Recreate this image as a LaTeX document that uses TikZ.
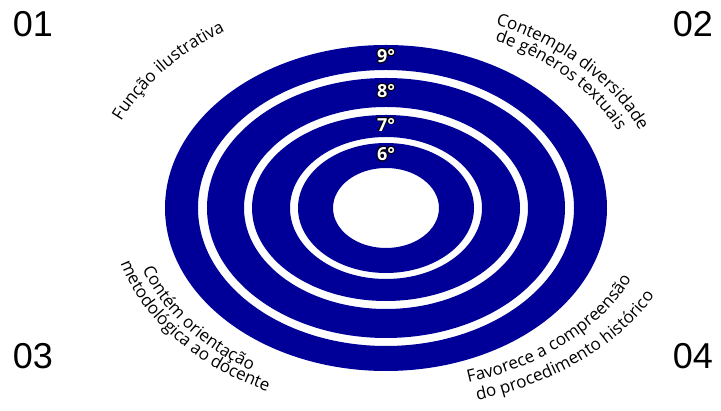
\documentclass[tikz,border=0pt]{standalone}
\usepackage{fontspec}
\setmainfont{Open Sans}
\newfontfamily\numfont{Liberation Sans}
\usepackage[copies]{contour}
\usetikzlibrary{calc,decorations.text}
\definecolor{ringblue}{RGB}{0,0,153}
\contourlength{0.8pt}
\tikzset{
  ring/.style={fill=ringblue, even odd rule},
  ringlabel/.style={text=white, font=\bfseries\fontsize{18}{18}\selectfont, inner sep=0pt},
  corner/.style={font=\numfont\fontsize{36}{36}\selectfont, inner sep=0pt},
  arctext/.style={decorate, decoration={text along path, text align=center,
    text={|\fontsize{17}{17}\selectfont|#1}}}
}
\begin{document}
\begin{tikzpicture}[x=1pt,y=1pt]
        \useasboundingbox (0,0) rectangle (721,411);
        \coordinate (c) at (386,203);
        \foreach \ox/\oy/\ix/\iy/\lbl in {221/163/188/138/9,179/130/142/101/8,134/93/96/71/7,88/65/53/40/6}{
          \fill[ring] (c) ellipse [x radius=\ox, y radius=\oy] (c) ellipse [x radius=\ix, y radius=\iy];
          \node[ringlabel] (r\lbl) at ($(c)+(0,{(\oy+\iy)/2+1})$) {\contour{black}{\lbl°}};
        }
        \node[corner] (n01) at (33,387) {01};
        \node[corner] (n02) at (693,387) {02};
        \node[corner] (n03) at (33,55) {03};
        \node[corner] (n04) at (693,55) {04};
        \path[arctext={Função ilustrativa}] ($(c)+(158:290 and 213)$) arc[start angle=158, end angle=122, x radius=290, y radius=213];
        \path[arctext={Contempla diversidade}] ($(c)+(67:275 and 200)$) arc[start angle=67, end angle=22, x radius=275, y radius=200];
        \path[arctext={de gêneros textuais}] ($(c)+(66:255 and 185)$) arc[start angle=66, end angle=23, x radius=255, y radius=185];
        \path[arctext={Contém orientação}] ($(c)+(198:257 and 191)$) arc[start angle=198, end angle=239, x radius=257, y radius=191];
        \path[arctext={metodológica ao docente}] ($(c)+(194:276 and 203)$) arc[start angle=194, end angle=246, x radius=276, y radius=203];
        \path[arctext={Favorece a compreensão}] ($(c)+(286:266 and 184)$) arc[start angle=286, end angle=340, x radius=266, y radius=184];
        \path[arctext={do procedimento histórico}] ($(c)+(285:298 and 202)$) arc[start angle=285, end angle=338, x radius=298, y radius=202];
\end{tikzpicture}
\end{document}
